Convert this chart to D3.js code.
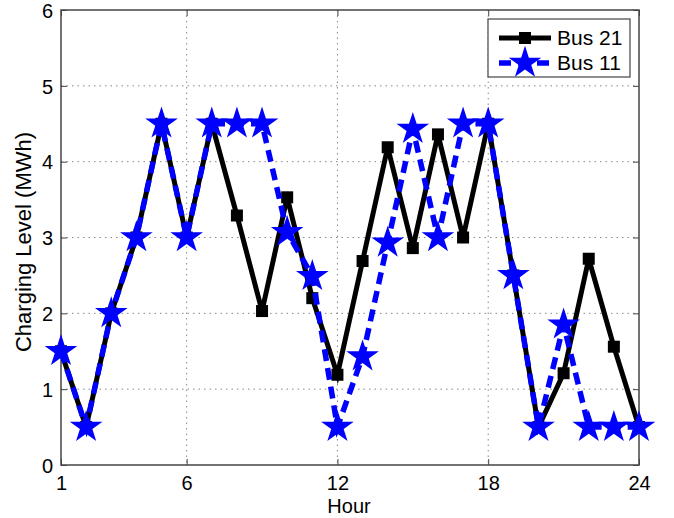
<!DOCTYPE html>
<html><head><meta charset="utf-8">
<script src="https://cdn.jsdelivr.net/npm/d3@7"></script>
<style>body{margin:0;background:#fff}svg{display:block;font-family:"Liberation Sans",Arial,sans-serif}</style>
</head><body><svg id="c" width="674" height="518"></svg>
<script>
const hours = d3.range(1, 25);
const bus21 = [1.5,0.5,2.0,3.0,4.5,3.0,4.5,3.29,2.03,3.53,2.2,1.19,2.69,4.19,2.86,4.36,3.0,4.5,2.5,0.5,1.21,2.72,1.56,0.5];
const bus11 = [1.5,0.5,2.0,3.0,4.5,3.0,4.5,4.5,4.5,3.07,2.49,0.5,1.43,2.93,4.43,3.0,4.5,4.5,2.5,0.5,1.85,0.5,0.5,0.5];
const xTicks = [1,6,12,18,24];
const yTicks = [0,1,2,3,4,5,6];
const seriesNames = ["Bus 21","Bus 11"];

const L=61,R=639,T=10,B=465;
const svg=d3.select("#c");
const x=d3.scaleLinear().domain([1,24]).range([L,R]);
const y=d3.scaleLinear().domain([0,6]).range([B,T]);

// grid
const g=svg.append("g");
g.selectAll(".gx").data(xTicks.filter(d=>d>1&&d<24)).enter().append("line")
 .attr("x1",d=>x(d)).attr("x2",d=>x(d)).attr("y1",T).attr("y2",B)
 .attr("stroke","#888").attr("stroke-width",1).attr("stroke-dasharray","1.5,4");
g.selectAll(".gy").data(yTicks.filter(d=>d>0&&d<6)).enter().append("line")
 .attr("y1",d=>y(d)).attr("y2",d=>y(d)).attr("x1",L).attr("x2",R)
 .attr("stroke","#888").attr("stroke-width",1).attr("stroke-dasharray","1.5,4");

// axes
const ax=svg.append("g").attr("transform",`translate(0,${B})`)
 .call(d3.axisBottom(x).tickValues(xTicks).tickSize(-6).tickPadding(11).tickFormat(d3.format("d")));
const ay=svg.append("g").attr("transform",`translate(${L},0)`)
 .call(d3.axisLeft(y).tickValues(yTicks).tickSize(-6).tickPadding(8).tickFormat(d3.format("d")));
const axT=svg.append("g").attr("transform",`translate(0,${T})`)
 .call(d3.axisTop(x).tickValues(xTicks).tickSize(-6).tickFormat(""));
const ayR=svg.append("g").attr("transform",`translate(${R},0)`)
 .call(d3.axisRight(y).tickValues(yTicks).tickSize(-6).tickFormat(""));
[ax,ay,axT,ayR].forEach(a=>{
  a.select(".domain").remove();
  a.selectAll("line").attr("stroke","#444").attr("stroke-width",1);
  a.selectAll("text").attr("font-size",20).attr("fill","#000").attr("font-family","Liberation Sans, Arial, sans-serif");
});
ay.selectAll("text").attr("dy","0.36em");
svg.append("rect").attr("x",L).attr("y",T).attr("width",R-L).attr("height",B-T)
 .attr("fill","none").attr("stroke","#444").attr("stroke-width",1.5);

// series
const line=d3.line().x((d,i)=>x(hours[i])).y(d=>y(d));
const star=d3.symbol().type(d3.symbolStar).size(330);
function drawBlack(gg,data){
  gg.append("path").datum(data).attr("d",line).attr("fill","none").attr("stroke","#000").attr("stroke-width",5).attr("stroke-linejoin","miter");
  gg.selectAll("rect").data(data).enter().append("rect")
   .attr("x",(d,i)=>x(hours[i])-6).attr("y",d=>y(d)-6).attr("width",12).attr("height",12).attr("fill","#000");
}
function drawBlue(gg,data){
  gg.append("path").datum(data).attr("d",line).attr("fill","none").attr("stroke","#0000ff").attr("stroke-width",5.5).attr("stroke-dasharray","12,7");
  gg.selectAll(".s").data(data).enter().append("path")
   .attr("transform",(d,i)=>`translate(${x(hours[i])},${y(d)})`).attr("d",star).attr("fill","#0000ff");
}
drawBlack(svg.append("g"),bus21);
drawBlue(svg.append("g"),bus11);

// labels
svg.append("text").attr("x",349).attr("y",513).attr("text-anchor","middle").attr("font-size",20).text("Hour");
svg.append("text").attr("transform","translate(31,242) rotate(-90)").attr("text-anchor","middle").attr("font-size",22).text("Charging Level (MWh)");

// legend
const lg=svg.append("g");
lg.append("rect").attr("x",488).attr("y",19).attr("width",142).attr("height",58).attr("fill","#fff").attr("stroke","#444").attr("stroke-width",1.2);
const ly=[38,63];
lg.append("line").attr("x1",499).attr("x2",551).attr("y1",ly[0]).attr("y2",ly[0]).attr("stroke","#000").attr("stroke-width",5);
lg.append("rect").attr("x",519).attr("y",ly[0]-6).attr("width",12).attr("height",12).attr("fill","#000");
lg.append("line").attr("x1",499).attr("x2",551).attr("y1",ly[1]).attr("y2",ly[1]).attr("stroke","#0000ff").attr("stroke-width",5.5).attr("stroke-dasharray","12,7");
lg.append("path").attr("transform",`translate(525,${ly[1]})`).attr("d",star).attr("fill","#0000ff");
lg.selectAll(".t").data(seriesNames).enter().append("text").attr("x",557).attr("y",(d,i)=>ly[i]+7).attr("font-size",21).text(d=>d);
</script></body></html>
